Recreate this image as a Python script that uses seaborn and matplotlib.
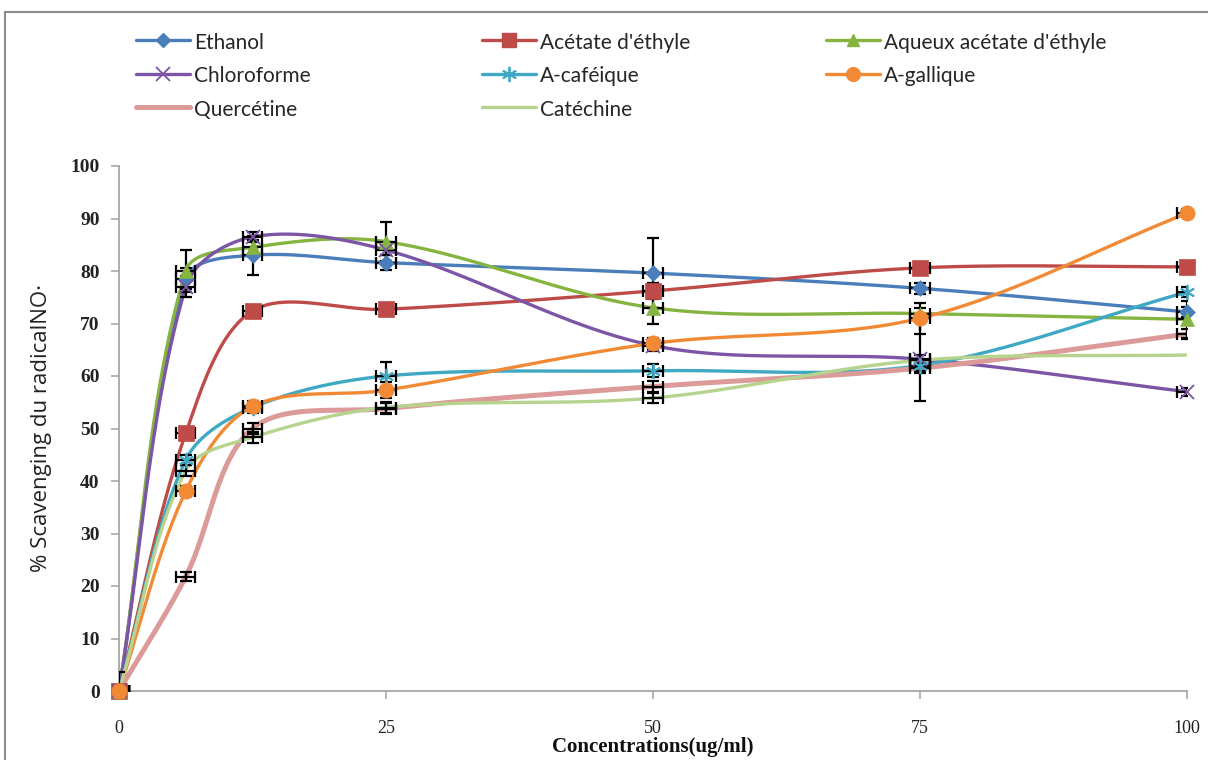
import numpy as np
import pandas as pd
import matplotlib
matplotlib.use("Agg")
import matplotlib.pyplot as plt
from matplotlib.lines import Line2D
import seaborn as sns

# ---------------- data ----------------
conc = [0, 6.25, 12.5, 25, 50, 75, 100]
series_names = ["Ethanol", "Acétate d'éthyle", "Aqueux acétate d'éthyle", "Chloroforme",
                "A-caféique", "A-gallique", "Quercétine", "Catéchine"]
ethanol = [0, 78.5, 83.0, 81.6, 79.6, 76.7, 72.2]
acetate = [0, 49.1, 72.4, 72.7, 76.2, 80.6, 80.8]
aqueux = [0, 80.0, 84.5, 85.6, 73.0, 71.9, 70.8]
chloroforme = [0, 77.0, 86.5, 84.0, 65.8, 63.2, 57.0]
cafeique = [0, 44.0, 54.0, 60.0, 61.0, 62.0, 76.0]
gallique = [0, 38.1, 54.2, 57.3, 66.2, 71.0, 91.0]
quercetine = [0, 21.8, 50.0, 53.8, 58.0, 61.5, 68.0]
catechine = [0, 42.0, 48.3, 54.0, 55.8, 63.0, 64.0]

nan = float("nan")
err_ethanol = [0, 2.0, 3.7, 1.5, 6.6, 1.0, 1.0]
err_acetate = [0, 1.0, 1.0, 0.8, 1.5, 0.8, 0.8]
err_aqueux = [3.6, 4.0, 1.5, 3.7, 3.0, 1.0, 3.5]
err_chloroforme = [0, 2.0, 1.0, 1.0, 1.0, 8.0, 0.8]
err_cafeique = [0, 1.0, 1.0, 2.6, 1.2, 1.0, 1.0]
err_gallique = [0, 1.0, 1.0, 1.5, 1.0, 3.0, 0.8]
err_quercetine = [0, 0.8, 1.0, 1.0, 1.0, 1.0, 1.0]
err_catechine = [0, 1.0, 1.0, 1.0, 1.0, 1.0, nan]
xerr_default = [0.9, 0.9, 0.9, 0.9, 0.9, 0.9, 0.9]
xerr_catechine = [0.9, 0.9, 0.9, 0.9, 0.9, 0.9, nan]

values = [ethanol, acetate, aqueux, chloroforme, cafeique, gallique, quercetine, catechine]
errors = [err_ethanol, err_acetate, err_aqueux, err_chloroforme, err_cafeique, err_gallique,
          err_quercetine, err_catechine]
xerrors = [xerr_default] * 7 + [xerr_catechine]

colors = ["#4a7ebb", "#be4b48", "#86b440", "#7d55a6", "#3fa9c4", "#f28a35", "#dc9a98", "#b6d48e"]
markers = ["D", "s", "^", "x", (6, 2, 0), "o", None, None]
msizes = [8, 11, 10, 10, 11, 11, 0, 0]
lws = [2.4, 2.4, 2.4, 2.4, 2.4, 2.4, 3.6, 2.4]

AX_W, AX_H = 1068.0, 525.0  # axes size in pixels (used for screen-space smoothing)


def smooth(xs, ys, n=50):
    """Excel-like smoothed line: Bezier segments, tangents weighted by screen chord lengths."""
    P = np.column_stack([np.asarray(xs, float) * AX_W / 100, np.asarray(ys, float) * AX_H / 100])
    m = len(P)
    pts = []
    for i in range(m - 1):
        p0 = P[i - 1] if i > 0 else P[i]
        p1 = P[i]
        p2 = P[i + 1]
        p3 = P[i + 2] if i + 2 < m else P[i + 1]
        d01 = np.linalg.norm(p1 - p0)
        d12 = np.linalg.norm(p2 - p1)
        d23 = np.linalg.norm(p3 - p2)
        c1 = p1 + (p2 - p0) * (d12 / (d01 + d12) / 3 if d01 + d12 > 0 else 0)
        c2 = p2 - (p3 - p1) * (d12 / (d12 + d23) / 3 if d12 + d23 > 0 else 0)
        t = np.linspace(0, 1, n)[:, None]
        seg = ((1 - t) ** 3) * p1 + 3 * ((1 - t) ** 2) * t * c1 + 3 * (1 - t) * t ** 2 * c2 + t ** 3 * p2
        if i > 0:
            seg = seg[1:]
        pts.append(seg)
    pts = np.vstack(pts)
    return pts[:, 0] * 100 / AX_W, pts[:, 1] * 100 / AX_H


sns.set_theme(style="white")
plt.rcParams["font.family"] = ["DejaVu Sans"]

fig = plt.figure(figsize=(12.08, 7.6), dpi=100)
ax = fig.add_axes([119 / 1208, 1 - 691 / 760, AX_W / 1208, AX_H / 760])

for k, name in enumerate(series_names):
    sx, sy = smooth(conc, values[k])
    df = pd.DataFrame({"x": sx, "y": sy})
    sns.lineplot(data=df, x="x", y="y", ax=ax, color=colors[k], lw=lws[k], sort=False,
                 estimator=None, zorder=2 + k * 0.1)
    ax.errorbar(conc, values[k], yerr=errors[k], xerr=xerrors[k], fmt="none", ecolor="black",
                elinewidth=1.6, capsize=4, capthick=1.6, zorder=3 + k * 0.1)
    if markers[k] is not None:
        dfp = pd.DataFrame({"x": conc, "y": values[k]})
        mk = markers[k]
        if mk == "x" or isinstance(mk, tuple):
            ax.plot(conc, values[k], linestyle="none", marker=mk, ms=msizes[k],
                    mec=colors[k], mew=1.3, zorder=4 + k * 0.1, clip_on=False)
        else:
            sns.scatterplot(data=dfp, x="x", y="y", ax=ax, marker=mk, s=msizes[k] ** 2,
                            color=colors[k], edgecolor=colors[k], linewidth=0.5,
                            zorder=4 + k * 0.1, clip_on=False)

ax.set_xlim(0, 100)
ax.set_ylim(0, 100)
ax.set_xticks([0, 25, 50, 75, 100])
ax.set_yticks(range(0, 101, 10))
for s in ["top", "right"]:
    ax.spines[s].set_visible(False)
for s in ["left", "bottom"]:
    ax.spines[s].set_color("#a0a0a0")
    ax.spines[s].set_linewidth(1.2)
ax.tick_params(axis="both", which="both", direction="out", length=6, width=1.1, color="#a0a0a0",
               left=True, bottom=True)
ax.tick_params(axis="y", pad=8)
ax.tick_params(axis="x", pad=15)
for lab in ax.get_yticklabels():
    lab.set_fontfamily("Liberation Serif")
    lab.set_fontweight("bold")
    lab.set_fontsize(14)
    lab.set_color("#222222")
for lab in ax.get_xticklabels():
    lab.set_fontfamily("Liberation Serif")
    lab.set_fontsize(13)
    lab.set_color("#222222")

ax.set_xlabel("Concentrations(ug/ml)", fontfamily="Liberation Serif", fontweight="bold",
              fontsize=15, labelpad=0, color="#111111")
ax.set_ylabel("% Scavenging du radicalNO·", fontfamily="Open Sans", fontsize=16,
              labelpad=13, color="#222222")
ax.grid(False)

# legend handles
handles = []
for k, name in enumerate(series_names):
    if markers[k] is None:
        h = Line2D([], [], color=colors[k], lw=lws[k])
    elif markers[k] == "x" or isinstance(markers[k], tuple):
        h = Line2D([], [], color=colors[k], lw=lws[k], marker=markers[k], ms=msizes[k],
                   mec=colors[k], mew=1.3)
    else:
        h = Line2D([], [], color=colors[k], lw=lws[k], marker=markers[k], ms=msizes[k] * 0.9,
                   mfc=colors[k], mec=colors[k])
    handles.append(h)

cols = [[0, 3, 6], [1, 4, 7], [2, 5]]
xpos = [136, 482, 826]
for c, idx in enumerate(cols):
    fig.legend([handles[i] for i in idx], [series_names[i] for i in idx], loc="upper left",
               bbox_to_anchor=(xpos[c] / 1208, 1 - 31 / 760), frameon=False,
               prop={"family": ["Lato", "DejaVu Sans"], "size": 15},
               handlelength=2.6, handleheight=1.2, handletextpad=0.2, labelspacing=0.58,
               borderaxespad=0, borderpad=0)

# outer chart border
fig.add_artist(Line2D([5 / 1208, 5 / 1208], [0, 1 - 12 / 760], transform=fig.transFigure,
                      color="#8c8c8c", lw=1.5))
fig.add_artist(Line2D([5 / 1208, 1], [1 - 12 / 760, 1 - 12 / 760], transform=fig.transFigure,
                      color="#8c8c8c", lw=1.5))

fig.savefig("out.png", dpi=100)
